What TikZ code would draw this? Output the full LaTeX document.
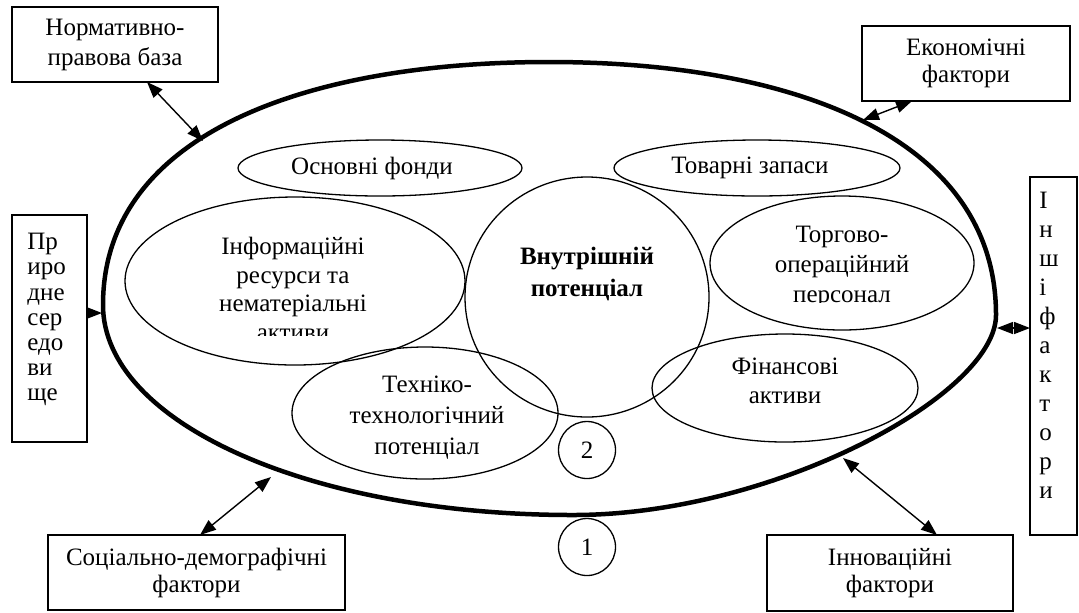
\documentclass[tikz,border=0pt]{standalone}
\usepackage{fontspec}
\setmainfont{Liberation Serif}
\usetikzlibrary{shapes.geometric,arrows.meta}
\begin{document}
\begin{tikzpicture}[x=0.5pt,y=-0.5pt,
  font=\fontsize{12.5}{14.25}\selectfont,
  oval/.style={draw, ellipse, line width=0.65pt, inner sep=0pt, align=center},
  box/.style={draw, line width=0.75pt, inner sep=0pt, align=center},
  plain/.style={inner sep=0pt, align=center},
  link/.style={line width=0.7pt, {Triangle[length=8pt,width=6pt]}-{Triangle[length=8pt,width=6pt]}},
  onearrow/.style={line width=0.7pt, -{Triangle[length=8pt,width=6pt]}},
  num/.style={draw, circle, line width=0.65pt, minimum size=28.5pt, inner sep=0pt},
  outer/.style={line width=2.25pt}
]
\useasboundingbox (0,0) rectangle (1079,612);

% big outer shape (1)
\coordinate (oT) at (549,62);
\coordinate (oR) at (996,315);
\coordinate (oB) at (573,515);
\coordinate (oL) at (103,305);
\draw[outer] (oT) .. controls (795,62) and (996,138) .. (oR)
  .. controls (996,395) and (773,515) .. (oB)
  .. controls (308,515) and (103,422) .. (oL)
  .. controls (103,135) and (304,62) .. (oT) -- cycle;

% outer factor boxes
\node[box, minimum width=103pt, minimum height=37.5pt, font=\fontsize{12.5}{15}\selectfont] (norm) at (115,44.5) {Нормативно-\\правова база};
\node[box, minimum width=104pt, minimum height=37.5pt, font=\fontsize{12.5}{13.5}\selectfont] (ekon) at (966,63.5) {Економічні\\фактори};
\node[box, minimum width=148.5pt, minimum height=37.5pt, font=\fontsize{12.5}{13.5}\selectfont] (soc) at (196.5,572.5) {Соціально-демографічні\\фактори};
\node[box, minimum width=123pt, minimum height=38pt, font=\fontsize{12.5}{13.5}\selectfont] (innov) at (890,573) {Інноваційні\\фактори};
\node[box, minimum width=37.5pt, minimum height=113.5pt] (pryr) at (49.5,328.5) {};
\node[anchor=north west, inner sep=0pt, align=left, font=\fontsize{12.5}{12.6}\selectfont] (pryrtxt) at (27,233) {Пр\\иро\\дне\\сер\\едо\\ви\\ще};
\node[box, minimum width=23.5pt, minimum height=179pt] (inshi) at (1053.5,356) {};
\node[anchor=north west, inner sep=0pt, align=left, font=\fontsize{12.5}{14.5}\selectfont] (inshitxt) at (1039,192) {І\\н\\ш\\і\\ф\\а\\к\\т\\о\\р\\и};

% inner components
\node[oval, minimum width=142pt, minimum height=28pt] (osn) at (380,168) {};
\node[plain] (osntxt) at (372,168) {Основні фонди};
\node[oval, minimum width=143pt, minimum height=28pt] (tov) at (757,168) {};
\node[plain] (tovtxt) at (750,168) {Товарні запаси};
\node[oval, minimum width=170pt, minimum height=84pt] (inf) at (295,281) {};
\begin{scope}
 \clip (120,190) rectangle (470,335);
 \node[plain] (inftxt) at (293,289) {Інформаційні\\ресурси та\\нематеріальні\\активи};
\end{scope}
\node[oval, minimum width=122pt, minimum height=120pt] (vn) at (587,297) {};
\node[plain, font=\fontsize{12.5}{16}\selectfont\bfseries] (vntxt) at (587,274) {Внутрішній\\потенціал};
\node[oval, minimum width=132pt, minimum height=67pt] (torg) at (842,263) {};
\begin{scope}
 \clip (700,200) rectangle (980,302);
 \node[plain, font=\fontsize{12.5}{15}\selectfont] (torgtxt) at (842,267) {Торгово-\\операційний\\персонал};
\end{scope}
\node[oval, minimum width=133pt, minimum height=54pt] (fin) at (785,388) {};
\node[plain] (fintxt) at (785,381) {Фінансові\\активи};
\node[oval, minimum width=133pt, minimum height=66pt] (tech) at (425,413) {};
\node[plain, font=\fontsize{12.5}{15.5}\selectfont] (techtxt) at (427,418) {Техніко-\\технологічний\\потенціал};
\node[num] (n2) at (587,450) {2};
\node[num] (n1) at (587,547) {1};

% connector end points on the outer shape
\coordinate (eN) at (203,141);
\coordinate (eE) at (863,120);
\coordinate (eP) at (102,313);
\coordinate (eI) at (997,328);
\coordinate (eS) at (271,477);
\coordinate (eV) at (843,458);
\coordinate (bN) at (147,82);
\coordinate (bE) at (912,101);
\coordinate (bP) at (87,313);
\coordinate (bI) at (1030,328);
\coordinate (bS) at (200,535);
\coordinate (bV) at (937,535);

\draw[link] (bN) -- (eN);
\draw[link] (eE) -- (bE);
\draw[onearrow] (bP) -- (eP);
\draw[link] (eI) -- (bI);
\draw[link] (bS) -- (eS);
\draw[link] (eV) -- (bV);
\end{tikzpicture}
\end{document}
